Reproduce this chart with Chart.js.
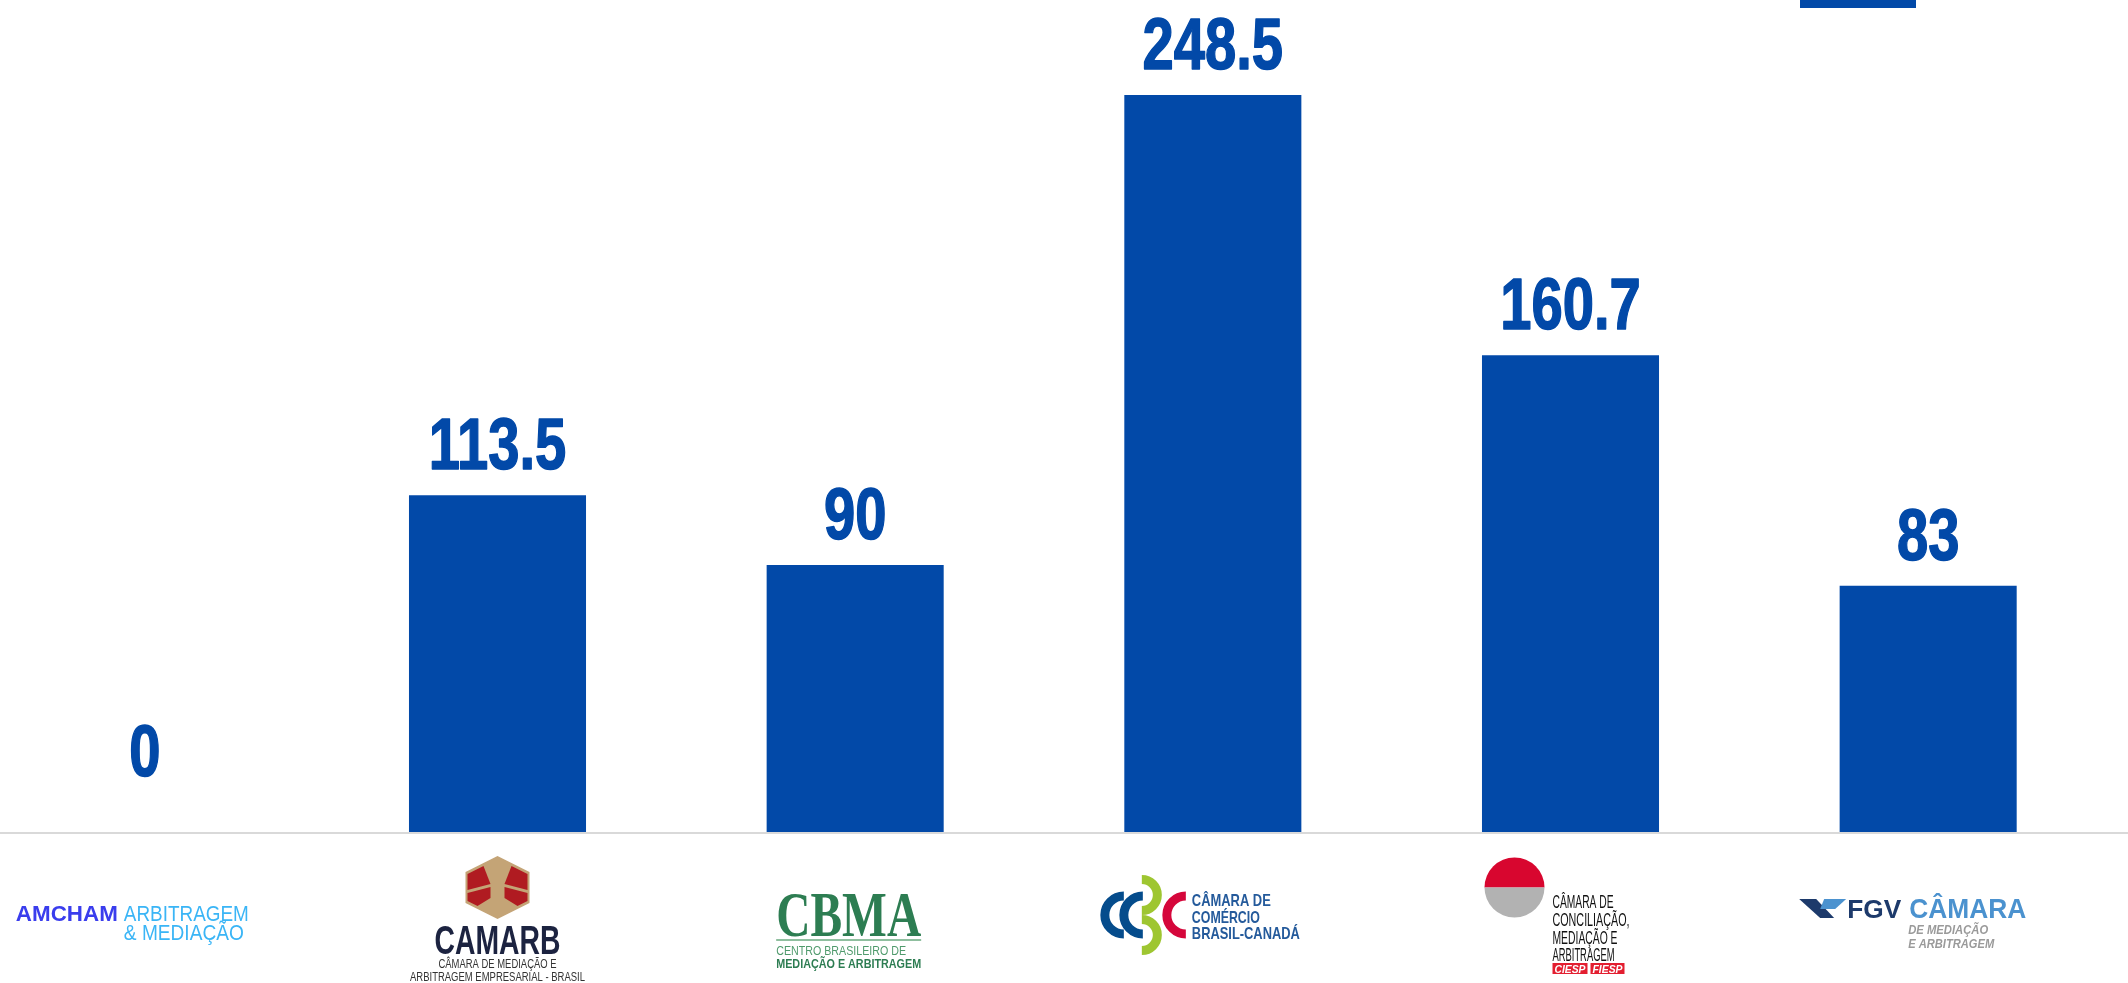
<!DOCTYPE html>
<html>
<head>
<meta charset="utf-8">
<script src="https://cdn.jsdelivr.net/npm/chart.js@4"></script>
<style>
    html, body { margin: 0; padding: 0; background: #fff; overflow: hidden; }
    #wrap { position: relative; width: 2128px; height: 983px; overflow: hidden; }
    /* canvas is a bit wider than the page so the category slots line up with the original */
    #box { position: absolute; left: -40px; top: 0; width: 2170px; height: 983px; }
    /* piece of a block cut off at the top of the original screenshot */
    #stray { position: absolute; left: 1800px; top: 0; width: 116px; height: 8px; background: #0249a8; }
</style>
</head>
<body>
<div id="wrap">
    <div id="box"><canvas id="myChart"></canvas></div>
    <div id="stray"></div>
</div>
<script>
// data
var categorias = ["AMCHAM", "CAMARB", "CBMA", "CCBC", "CIESP/FIESP", "FGV"];
var valores = [0, 113.5, 90, 248.5, 160.7, 83];
var yMax = 280.5;
var azul = "#0249a8";

var SANS = '"Liberation Sans", Arial, sans-serif';

// text squeezed/stretched to a given width
function texto(ctx, s, x, y, fonte, cor, largura, centro) {
    ctx.save();
    ctx.font = fonte;
    ctx.fillStyle = cor;
    ctx.textAlign = 'left';
    ctx.textBaseline = 'alphabetic';
    var w = ctx.measureText(s).width;
    var k = largura ? largura / w : 1;
    ctx.translate(centro ? x - (w * k) / 2 : x, y);
    ctx.scale(k, 1);
    ctx.fillText(s, 0, 0);
    ctx.restore();
}

function poly(ctx, pts, cor) {
    ctx.beginPath();
    ctx.moveTo(pts[0][0], pts[0][1]);
    for (var i = 1; i < pts.length; i++) ctx.lineTo(pts[i][0], pts[i][1]);
    ctx.closePath();
    ctx.fillStyle = cor;
    ctx.fill();
}

// logos drawn under each bar (cx = category centre, b = baseline)
var desenhos = [
    function (ctx, cx, b) { // AMCHAM
        texto(ctx, "AMCHAM", cx - 124, b + 89, "bold 22px " + SANS, "#3a3ded", 102);
        texto(ctx, "ARBITRAGEM", cx - 16, b + 89, "22px " + SANS, "#3ab5f6", 125);
        texto(ctx, "& MEDIAÇÃO", cx - 16, b + 108, "22px " + SANS, "#3ab5f6", 120);
    },
    function (ctx, cx, b) { // CAMARB
        var tan = "#c4a476", red = "#b01b21";
        poly(ctx, [[cx, b + 24], [cx + 32, b + 40], [cx + 32, b + 71], [cx, b + 87], [cx - 32, b + 71], [cx - 32, b + 40]], tan);
        poly(ctx, [[cx - 30, b + 42], [cx - 14, b + 34], [cx - 7, b + 52], [cx - 30, b + 58]], red);
        poly(ctx, [[cx - 30, b + 61], [cx - 7, b + 55], [cx - 7, b + 66], [cx - 20, b + 74], [cx - 30, b + 69]], red);
        poly(ctx, [[cx + 30, b + 42], [cx + 14, b + 34], [cx + 7, b + 52], [cx + 30, b + 58]], red);
        poly(ctx, [[cx + 30, b + 61], [cx + 7, b + 55], [cx + 7, b + 66], [cx + 20, b + 74], [cx + 30, b + 69]], red);
        texto(ctx, "CAMARB", cx, b + 122, "bold 40px " + SANS, "#1c2340", 126, true);
        texto(ctx, "CÂMARA DE MEDIAÇÃO E", cx, b + 136, "12px " + SANS, "#333", 118, true);
        texto(ctx, "ARBITRAGEM EMPRESARIAL - BRASIL", cx, b + 149, "12px " + SANS, "#333", 175, true);
    },
    function (ctx, cx, b) { // CBMA
        var verde = "#2d7d52";
        texto(ctx, "CBMA", cx - 79, b + 104, 'bold 64px "Liberation Serif", serif', verde, 145);
        ctx.fillStyle = "#8fbf9f";
        ctx.fillRect(cx - 79, b + 107, 145, 2);
        texto(ctx, "CENTRO BRASILEIRO DE", cx - 79, b + 123, "13px " + SANS, "#4f9a6c", 130);
        texto(ctx, "MEDIAÇÃO E ARBITRAGEM", cx - 79, b + 136, "bold 13px " + SANS, verde, 145);
    },
    function (ctx, cx, b) { // CCBC
        ctx.save();
        ctx.lineWidth = 9;
        ctx.strokeStyle = "#054c8c";
        ctx.beginPath(); ctx.arc(cx - 89, b + 83, 19, Math.PI / 2, Math.PI * 1.5); ctx.stroke();
        ctx.beginPath(); ctx.arc(cx - 70, b + 83, 19, Math.PI / 2, Math.PI * 1.5); ctx.stroke();
        ctx.strokeStyle = "rgba(150, 193, 31, 0.92)";
        ctx.beginPath(); ctx.arc(cx - 71, b + 63, 15.5, -Math.PI / 2, Math.PI / 2); ctx.stroke();
        ctx.beginPath(); ctx.arc(cx - 71, b + 103, 15.5, -Math.PI / 2, Math.PI / 2); ctx.stroke();
        ctx.strokeStyle = "#d5073b";
        ctx.beginPath(); ctx.arc(cx - 27, b + 83, 19, Math.PI / 2, Math.PI * 1.5); ctx.stroke();
        ctx.restore();
        var nav = "#245a9b";
        texto(ctx, "CÂMARA DE", cx - 21, b + 74, "bold 17px " + SANS, nav, 79);
        texto(ctx, "COMÉRCIO", cx - 21, b + 91, "bold 17px " + SANS, nav, 68);
        texto(ctx, "BRASIL-CANADÁ", cx - 21, b + 107, "bold 17px " + SANS, nav, 108);
    },
    function (ctx, cx, b) { // CIESP / FIESP
        var ox = cx - 56, oy = b + 55.5;
        ctx.save();
        ctx.beginPath(); ctx.arc(ox, oy, 30, Math.PI, 0); ctx.closePath();
        ctx.fillStyle = "#d8062f"; ctx.fill();
        ctx.beginPath(); ctx.arc(ox, oy, 30, 0, Math.PI); ctx.closePath();
        ctx.fillStyle = "#b2b2b2"; ctx.fill();
        ctx.restore();
        var f = "18px " + SANS;
        texto(ctx, "CÂMARA DE", cx - 18, b + 76, f, "#111", 61);
        texto(ctx, "CONCILIAÇÃO,", cx - 18, b + 94, f, "#111", 77);
        texto(ctx, "MEDIAÇÃO E", cx - 18, b + 111.5, f, "#111", 65);
        texto(ctx, "ARBITRAGEM", cx - 18, b + 129, f, "#111", 62);
        ctx.fillStyle = "#e31e30";
        ctx.fillRect(cx - 18, b + 131, 35, 11);
        ctx.fillRect(cx + 20, b + 131, 34, 11);
        texto(ctx, "CIESP", cx - 16, b + 141, "italic bold 11px " + SANS, "#fff", 31);
        texto(ctx, "FIESP", cx + 22, b + 141, "italic bold 11px " + SANS, "#fff", 30);
    },
    function (ctx, cx, b) { // FGV
        poly(ctx, [[cx - 129, b + 67], [cx - 112, b + 67], [cx - 94, b + 86], [cx - 108, b + 86]], "#1d3a6b");
        poly(ctx, [[cx - 104, b + 67], [cx - 82, b + 67], [cx - 93, b + 77], [cx - 108, b + 77]], "#4b92cf");
        texto(ctx, "FGV", cx - 81, b + 86, "bold 25px " + SANS, "#1d3a6b", 54);
        texto(ctx, "CÂMARA", cx - 19, b + 86, "bold 28px " + SANS, "#4b92cf", 117);
        texto(ctx, "DE MEDIAÇÃO", cx - 20, b + 102, "italic bold 13px " + SANS, "#9a9a9a", 80);
        texto(ctx, "E ARBITRAGEM", cx - 20, b + 116, "italic bold 13px " + SANS, "#9a9a9a", 86);
    }
];

// value above every bar
var rotulos = {
    id: 'rotulos',
    afterDatasetsDraw: function (chart) {
        var ctx = chart.ctx;
        var base = chart.scales.y.getPixelForValue(0);
        chart.getDatasetMeta(0).data.forEach(function (bar, i) {
            var y = Math.min(bar.y - 26, base - 56);
            ctx.save();
            ctx.translate(bar.x + (valores[i] === 0 ? 5 : 0), y);
            ctx.scale(0.78, 1);
            ctx.font = 'bold 72px ' + SANS;
            ctx.fillStyle = azul;
            ctx.strokeStyle = azul;
            ctx.lineWidth = 1.5;
            ctx.lineJoin = 'round';
            ctx.textAlign = 'center';
            ctx.textBaseline = 'alphabetic';
            ctx.strokeText(String(valores[i]), 0, 0);
            ctx.fillText(String(valores[i]), 0, 0);
            ctx.restore();
        });
    }
};

// grey baseline over the full width + logos
var rodape = {
    id: 'rodape',
    afterDraw: function (chart) {
        var ctx = chart.ctx;
        var base = chart.scales.y.getPixelForValue(0);
        ctx.save();
        ctx.fillStyle = "#d9d9d9";
        ctx.fillRect(0, base, chart.width, 2);
        ctx.restore();
        categorias.forEach(function (c, i) {
            var cx = chart.scales.x.getPixelForValue(i);
            desenhos[i](ctx, cx, base);
        });
    }
};

window.addEventListener('load', function () {
    new Chart("myChart", {
        type: "bar",
        data: {
            labels: categorias,
            datasets: [{
                data: valores,
                backgroundColor: azul,
                barPercentage: 0.495,
                categoryPercentage: 1
            }]
        },
        options: {
            responsive: true,
            maintainAspectRatio: false,
            animation: false,
            layout: { padding: { left: 1, right: 23, top: 0, bottom: 151 } },
            plugins: {
                legend: { display: false },
                tooltip: { enabled: false }
            },
            scales: {
                x: { display: false },
                y: { display: false, min: 0, max: yMax }
            }
        },
        plugins: [rotulos, rodape]
    });
});
</script>
</body>
</html>
